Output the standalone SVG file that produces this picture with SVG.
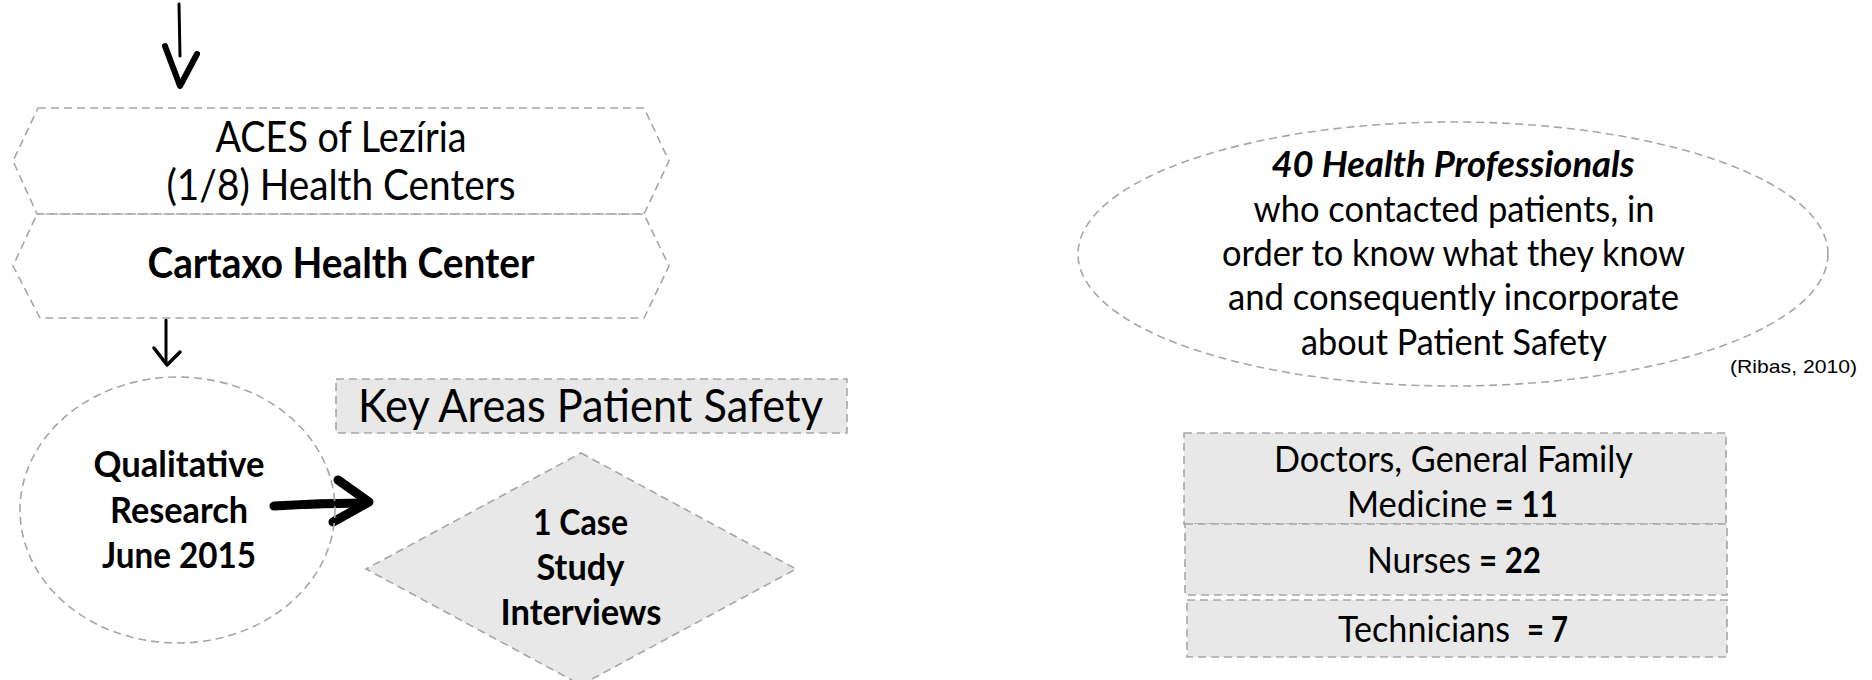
<svg xmlns="http://www.w3.org/2000/svg" width="1872" height="680" viewBox="0 0 1872 680">
<style>
.sh{fill:none;stroke:#a6a6a6;stroke-width:1.6;stroke-dasharray:8 5}
.gf{fill:#e8e8e8;stroke:#a6a6a6;stroke-width:1.6;stroke-dasharray:8 5}
text{font-family:Lato,"Open Sans","Liberation Sans",sans-serif;fill:#000;text-anchor:middle}
.r{font-size:42px}
.b{font-weight:bold}
.m{font-size:37px}
.k{font-size:47px}
.s{text-anchor:start}
.bi{font-weight:bold;font-style:italic}
.cite{font-family:"Liberation Sans",Arial,sans-serif;font-size:19px;text-anchor:start}
.arr{fill:none;stroke:#000;stroke-linecap:round;stroke-linejoin:round}
</style>
<rect width="1872" height="680" fill="#fff"/>
<g id="connectors">
  <path class="arr" d="M179,4 L180,56" stroke-width="3"/>
  <path class="arr" d="M165,46 L180,86 L197,54" stroke-width="6"/>
  <path class="arr" d="M166,320 L166,362" stroke-width="3"/>
  <path class="arr" d="M154,348 L167,365 L180,352" stroke-width="3.5"/>
  <path class="arr" d="M274,506 Q320,503 366,503" stroke-width="9"/>
  <path class="arr" d="M338,480 L369,502 L333,522" stroke-width="9"/>
</g>
<g id="aces">
  <polygon class="sh" points="38,108 644,108 669,161 644,214 37,214 13,161"/>
  <text class="r" x="341" y="152" textLength="251" lengthAdjust="spacingAndGlyphs">ACES of Lezíria</text>
  <text class="r" x="341" y="200" textLength="349" lengthAdjust="spacingAndGlyphs">(1/8) Health Centers</text>
</g>
<g id="cartaxo">
  <polygon class="sh" points="37,214 644,214 669,266 644,318 40,318 13,266"/>
  <text class="r b" x="341" y="278" textLength="387" lengthAdjust="spacingAndGlyphs">Cartaxo Health Center</text>
</g>
<g id="qualitative">
  <ellipse class="sh" cx="177.5" cy="510" rx="157.5" ry="133"/>
  <text class="m b" x="179" y="477" textLength="171" lengthAdjust="spacingAndGlyphs">Qualitative</text>
  <text class="m b" x="179" y="523" textLength="138" lengthAdjust="spacingAndGlyphs">Research</text>
  <text class="m b" x="179" y="568" textLength="154" lengthAdjust="spacingAndGlyphs">June 2015</text>
</g>
<g id="keyareas">
  <rect class="gf" x="336" y="379" width="511" height="54"/>
  <text class="k" x="590.5" y="422" textLength="465" lengthAdjust="spacingAndGlyphs">Key Areas Patient Safety</text>
</g>
<g id="casestudy">
  <polygon class="gf" points="581,453 796,569 581,685 366,569"/>
  <text class="m b" x="580.5" y="535" textLength="95" lengthAdjust="spacingAndGlyphs">1 Case</text>
  <text class="m b" x="580.5" y="580" textLength="88" lengthAdjust="spacingAndGlyphs">Study</text>
  <text class="m b" x="581" y="625" textLength="161" lengthAdjust="spacingAndGlyphs">Interviews</text>
</g>
<g id="professionals">
  <ellipse class="sh" cx="1453" cy="254" rx="375" ry="132"/>
  <text class="m bi" x="1453" y="177" textLength="363" lengthAdjust="spacingAndGlyphs">40 Health Professionals</text>
  <text class="m" x="1454" y="222" textLength="401" lengthAdjust="spacingAndGlyphs">who contacted patients, in</text>
  <text class="m" x="1453.5" y="266" textLength="463" lengthAdjust="spacingAndGlyphs">order to know what they know</text>
  <text class="m" x="1453.5" y="310" textLength="451" lengthAdjust="spacingAndGlyphs">and consequently incorporate</text>
  <text class="m" x="1454" y="355" textLength="306" lengthAdjust="spacingAndGlyphs">about Patient Safety</text>
</g>
<g id="citation">
  <text class="cite" x="1730" y="373" textLength="127" lengthAdjust="spacingAndGlyphs">(Ribas, 2010)</text>
</g>
<g id="doctors">
  <rect class="gf" x="1184" y="433" width="542" height="91"/>
  <text class="m" x="1453.5" y="472" textLength="359" lengthAdjust="spacingAndGlyphs">Doctors, General Family</text>
  <text class="m s" x="1347" y="517" textLength="140" lengthAdjust="spacingAndGlyphs">Medicine</text>
  <text class="m s b" x="1495" y="517" textLength="63" lengthAdjust="spacingAndGlyphs">= 11</text>
</g>
<g id="nurses">
  <rect class="gf" x="1185" y="524" width="542" height="71"/>
  <text class="m s" x="1367" y="573" textLength="104" lengthAdjust="spacingAndGlyphs">Nurses</text>
  <text class="m s b" x="1479" y="573" textLength="62" lengthAdjust="spacingAndGlyphs">= 22</text>
</g>
<g id="technicians">
  <rect class="gf" x="1187" y="600" width="540" height="57"/>
  <text class="m s" x="1338" y="642" textLength="172" lengthAdjust="spacingAndGlyphs">Technicians</text>
  <text class="m s b" x="1527" y="642" textLength="41" lengthAdjust="spacingAndGlyphs">= 7</text>
</g>
</svg>
